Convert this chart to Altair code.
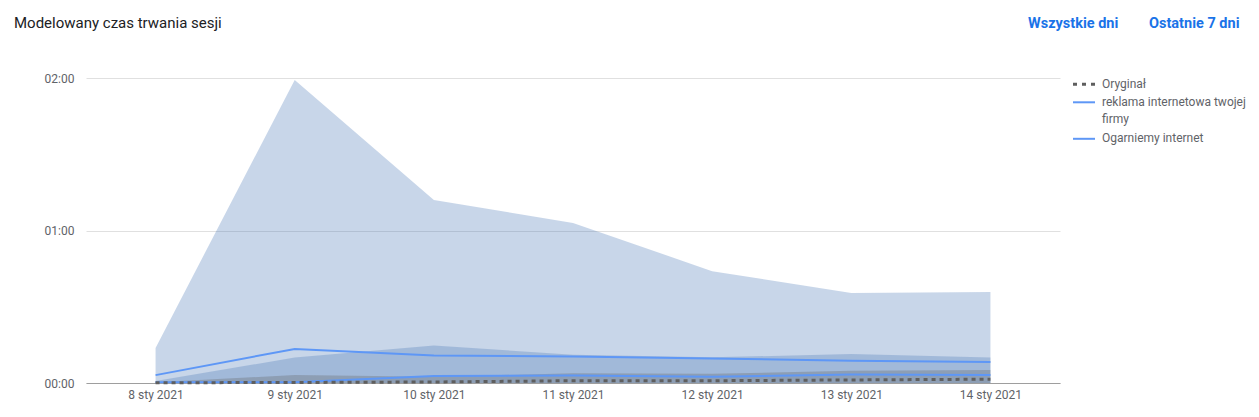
import altair as alt
import pandas as pd

dates = ["8 sty 2021", "9 sty 2021", "10 sty 2021", "11 sty 2021",
         "12 sty 2021", "13 sty 2021", "14 sty 2021"]
series_names = ["Oryginał", "reklama internetowa twojej firmy", "Ogarniemy internet"]

# values in seconds
oryginal = [0.1, 0.2, 0.4, 0.9, 0.9, 1.2, 1.5]
reklama = [3.1, 13.4, 10.8, 10.4, 9.6, 8.8, 8.3]
ogarniemy = [0.3, 0.3, 2.75, 3.0, 2.5, 3.3, 3.1]

reklama_hi = [13.8, 119.2, 72.0, 63.0, 44.0, 35.4, 35.8]
reklama_lo = [0, 0, 0, 0, 0, 0, 0]
ogarniemy_hi = [0.8, 10.0, 14.8, 11.1, 10.1, 11.4, 10.0]
ogarniemy_lo = [0, 0, 0, 0, 0, 0, 0]
oryginal_hi = [0.3, 3.1, 2.5, 3.8, 3.6, 4.8, 5.1]
oryginal_lo = [0, 0, 0, 0, 0, 0, 0]

y_ticks = [0, 60, 120]

title_text = "Modelowany czas trwania sesji"
link_texts = ["Wszystkie dni", "Ostatnie 7 dni"]

BLUE = "#5e97f6"
BAND_BLUE = "#4876b6"
BAND_GRAY = "#616161"
DOT = "#5f5f5f"
FONT = "Roboto"

def band_df(lo, hi):
    return pd.DataFrame({"date": dates, "lo": lo, "hi": hi})

def line_df(vals):
    return pd.DataFrame({"date": dates, "v": vals})

x_enc = alt.X("date:N", sort=dates,
              scale=alt.Scale(type="point", padding=0.5, domain=dates),
              axis=alt.Axis(title=None, labelAngle=0, ticks=False, grid=False,
                            domainColor="#9e9e9e", labelColor="#5f6368",
                            labelFont=FONT, labelFontSize=12, labelPadding=6))
y_scale = alt.Scale(domain=[0, 120], nice=False)
y_axis = alt.Axis(title=None, values=y_ticks, domain=False, ticks=False,
                  gridColor="#e0e0e0", labelColor="#5f6368", labelFont=FONT,
                  labelFontSize=12, labelPadding=12,
                  labelExpr="(floor(datum.value/60) < 10 ? '0' : '') + floor(datum.value/60) + ':' + (datum.value % 60 < 10 ? '0' : '') + (datum.value % 60)")

def band(lo, hi, color, opacity):
    return alt.Chart(band_df(lo, hi)).mark_area(color=color, opacity=opacity, interpolate="linear").encode(
        x=x_enc,
        y=alt.Y("lo:Q", scale=y_scale, axis=y_axis),
        y2="hi:Q",
    )

def line(vals, color, width, dash=None):
    kw = dict(color=color, strokeWidth=width)
    if dash:
        kw["strokeDash"] = dash
        kw["strokeCap"] = "butt"
    return alt.Chart(line_df(vals)).mark_line(**kw).encode(
        x=x_enc,
        y=alt.Y("v:Q", scale=y_scale, axis=y_axis),
    )

layers = [
    band(reklama_lo, reklama_hi, BAND_BLUE, 0.3),
    band(ogarniemy_lo, ogarniemy_hi, BAND_BLUE, 0.3),
    band(oryginal_lo, oryginal_hi, BAND_GRAY, 0.3),
    line(reklama, BLUE, 2),
    line(ogarniemy, BLUE, 2),
    line(oryginal, DOT, 3, [4, 4]),
]

def label(text, x, y, size=12, color="#5f6368", weight="normal", baseline="middle"):
    return alt.Chart(pd.DataFrame({"t": [text]})).mark_text(
        align="left", baseline=baseline, font=FONT, fontSize=size,
        color=color, fontWeight=weight
    ).encode(text="t:N", x=alt.value(x), y=alt.value(y))

def legend_rule(y, color, width, dash=None):
    kw = dict(color=color, strokeWidth=width)
    if dash:
        kw["strokeDash"] = dash
        kw["strokeCap"] = "butt"
    return alt.Chart(pd.DataFrame({"t": [0]})).mark_rule(**kw).encode(
        x=alt.value(987), x2=alt.value(1009), y=alt.value(y))

rek_words = series_names[1].rsplit(" ", 1)

decor = [
    label(title_text, -72, -50, size=15, color="#202124", baseline="alphabetic"),
    label(link_texts[0], 942, -50, size=14.5, color="#1a73e8", weight="bold", baseline="alphabetic"),
    label(link_texts[1], 1063, -50, size=14.5, color="#1a73e8", weight="bold", baseline="alphabetic"),
    legend_rule(6.3, DOT, 3, [4, 5]),
    label(series_names[0], 1016, 6.3),
    legend_rule(24.3, BLUE, 2),
    label(rek_words[0], 1016, 24.3),
    label(rek_words[1], 1016, 41.3),
    legend_rule(60.8, BLUE, 2),
    label(series_names[2], 1016, 60.3),
]

chart = alt.layer(*layers, *decor).properties(
    width=974, height=305,
    padding={"left": 78, "top": 70, "right": 190, "bottom": 25},
    autosize=alt.AutoSizeParams(type="none"),
    background="white",
).configure_view(strokeWidth=0)

chart.save("out.html", embed_options={"renderer": "svg", "actions": False})
